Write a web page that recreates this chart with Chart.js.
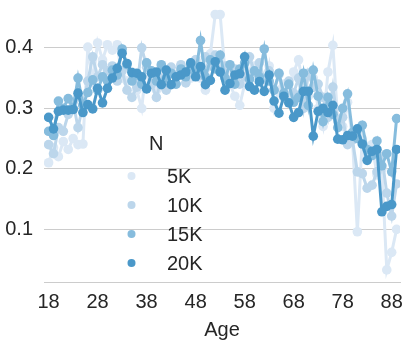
<!DOCTYPE html>
<html>
<head>
<meta charset="utf-8">
<script src="https://cdn.jsdelivr.net/npm/chart.js@4.4.1/dist/chart.umd.min.js"></script>
<style>
    html, body { margin: 0; padding: 0; background: #fff; }
    #ageChart { display: block; }
</style>
</head>
<body>
<canvas id="ageChart" width="414" height="342"></canvas>
<script>
// ages on the x axis
const ages = [18, 19, 20, 21, 22, 23, 24, 25, 26, 27, 28, 29, 30, 31, 32, 33, 34, 35,
    36, 37, 38, 39, 40, 41, 42, 43, 44, 45, 46, 47, 48, 49, 50, 51, 52, 53,
    54, 55, 56, 57, 58, 59, 60, 61, 62, 63, 64, 65, 66, 67, 68, 69, 70, 71,
    72, 73, 74, 75, 76, 77, 78, 79, 80, 81, 82, 83, 84, 85, 86, 87, 88, 89];

const seriesNames = ['5K', '10K', '15K', '20K'];

// values, one per age
const n5k = [0.210, 0.235, 0.220, 0.245, 0.232, 0.250, 0.240, 0.241, 0.401, 0.345, 0.408, 0.380, 0.405, 0.396, 0.405, 0.350, 0.345, 0.360,
    0.330, 0.300, 0.375, 0.350, 0.330, 0.370, 0.345, 0.360, 0.340, 0.370, 0.360, 0.350, 0.380, 0.350, 0.330, 0.390, 0.455, 0.455,
    0.360, 0.340, 0.320, 0.305, 0.340, 0.360, 0.370, 0.350, 0.330, 0.370, 0.300, 0.330, 0.340, 0.320, 0.360, 0.380, 0.330, 0.320,
    0.350, 0.300, 0.270, 0.360, 0.404, 0.280, 0.270, 0.310, 0.250, 0.096, 0.250, 0.220, 0.240, 0.190, 0.200, 0.033, 0.062, 0.100];

const n10k = [0.240, 0.225, 0.268, 0.262, 0.290, 0.310, 0.268, 0.305, 0.345, 0.385, 0.352, 0.372, 0.362, 0.370, 0.345, 0.362, 0.330, 0.318,
    0.335, 0.400, 0.368, 0.340, 0.318, 0.350, 0.330, 0.368, 0.355, 0.372, 0.342, 0.362, 0.380, 0.355, 0.385, 0.370, 0.388, 0.362,
    0.370, 0.343, 0.365, 0.340, 0.352, 0.385, 0.360, 0.375, 0.348, 0.362, 0.330, 0.356, 0.318, 0.345, 0.325, 0.350, 0.300, 0.358,
    0.335, 0.340, 0.318, 0.285, 0.335, 0.278, 0.285, 0.240, 0.248, 0.195, 0.192, 0.168, 0.173, 0.195, 0.220, 0.160, 0.122, 0.175];

const n15k = [0.262, 0.255, 0.312, 0.300, 0.316, 0.300, 0.350, 0.305, 0.326, 0.347, 0.330, 0.352, 0.345, 0.363, 0.355, 0.398, 0.372, 0.345,
    0.355, 0.340, 0.375, 0.362, 0.345, 0.372, 0.350, 0.358, 0.340, 0.365, 0.352, 0.370, 0.358, 0.412, 0.352, 0.380, 0.365, 0.388,
    0.350, 0.372, 0.340, 0.365, 0.375, 0.348, 0.362, 0.352, 0.398, 0.345, 0.330, 0.358, 0.325, 0.340, 0.310, 0.318, 0.358, 0.305,
    0.363, 0.320, 0.278, 0.318, 0.290, 0.268, 0.300, 0.324, 0.260, 0.250, 0.272, 0.232, 0.222, 0.246, 0.205, 0.225, 0.195, 0.283];

const n20k = [0.285, 0.266, 0.295, 0.297, 0.297, 0.298, 0.325, 0.293, 0.306, 0.299, 0.333, 0.309, 0.333, 0.350, 0.366, 0.391, 0.374, 0.359,
    0.358, 0.352, 0.332, 0.358, 0.360, 0.339, 0.363, 0.339, 0.352, 0.355, 0.360, 0.375, 0.352, 0.369, 0.339, 0.346, 0.377, 0.360,
    0.330, 0.341, 0.355, 0.357, 0.385, 0.336, 0.330, 0.344, 0.328, 0.355, 0.312, 0.292, 0.320, 0.309, 0.285, 0.293, 0.328, 0.328,
    0.254, 0.295, 0.300, 0.293, 0.305, 0.249, 0.248, 0.255, 0.254, 0.266, 0.241, 0.214, 0.229, 0.232, 0.129, 0.138, 0.141, 0.232];

const xTicks = [18, 28, 38, 48, 58, 68, 78, 88];
const yTicks = [0.1, 0.2, 0.3, 0.4];

const colors = ['#dbe8f5', '#bcd6eb', '#86bcdd', '#4a98c9'];
const textColor = '#262626';
const fontFamily = '"Liberation Sans", Arial, sans-serif';

function toPoints(values) {
    return ages.map((age, i) => ({ x: age, y: values[i] }));
}

// legend drawn inside the plot, no frame (like seaborn)
const legendInPlot = {
    id: 'legendInPlot',
    afterDatasetsDraw(chart) {
        const ctx = chart.ctx;
        ctx.save();
        ctx.font = '20px ' + fontFamily;
        ctx.fillStyle = textColor;
        ctx.textBaseline = 'middle';
        ctx.textAlign = 'left';
        ctx.fillText('N', 149, 144);
        const rows = [176, 205, 234, 263];
        seriesNames.forEach((name, i) => {
            ctx.beginPath();
            ctx.fillStyle = colors[i];
            ctx.arc(131.5, rows[i], 4, 0, Math.PI * 2);
            ctx.fill();
            ctx.fillStyle = textColor;
            ctx.fillText(name, 167, rows[i] + 1);
        });
        ctx.restore();
    }
};

const datasets = [n5k, n10k, n15k, n20k].map((vals, i) => ({
    label: seriesNames[i],
    data: toPoints(vals),
    borderColor: colors[i],
    backgroundColor: colors[i],
    borderWidth: 3,
    pointRadius: 4.8,
    pointBorderWidth: 0,
    pointHoverRadius: 4.8,
    order: 4 - i // 20K on top
}));

new Chart(document.getElementById('ageChart').getContext('2d'), {
    type: 'line',
    data: { datasets: datasets },
    options: {
        responsive: false,
        animation: false,
        devicePixelRatio: 1,
        layout: { padding: { top: 0, right: 14, bottom: 0, left: 0 } },
        plugins: {
            legend: { display: false },
            tooltip: { enabled: false }
        },
        scales: {
            x: {
                type: 'linear',
                min: 17.06,
                max: 89.7,
                afterBuildTicks: function(axis) {
                    axis.ticks = xTicks.map(v => ({ value: v }));
                },
                afterFit: function(axis) {
                    axis.height = 60;
                    axis.paddingLeft = 0;
                    axis.paddingRight = 0;
                },
                grid: { display: false, drawTicks: false },
                border: { display: true, color: '#cccccc', width: 1 },
                ticks: {
                    padding: 8,
                    maxRotation: 0,
                    autoSkip: false,
                    color: textColor,
                    font: { family: fontFamily, size: 20 }
                },
                title: {
                    display: true,
                    text: 'Age',
                    color: textColor,
                    padding: { top: 0, bottom: 0 },
                    font: { family: fontFamily, size: 20 }
                }
            },
            y: {
                type: 'linear',
                min: 0.013,
                max: 0.471,
                afterBuildTicks: function(axis) {
                    axis.ticks = yTicks.map(v => ({ value: v }));
                },
                afterFit: function(axis) {
                    axis.width = 44;
                    axis.paddingTop = 0;
                    axis.paddingBottom = 0;
                },
                grid: { color: '#cccccc', lineWidth: 1, drawTicks: false },
                border: { display: false },
                ticks: {
                    padding: 11,
                    color: textColor,
                    font: { family: fontFamily, size: 20 },
                    callback: function(value) { return value.toFixed(1); }
                }
            }
        }
    },
    plugins: [legendInPlot]
});
</script>
</body>
</html>
